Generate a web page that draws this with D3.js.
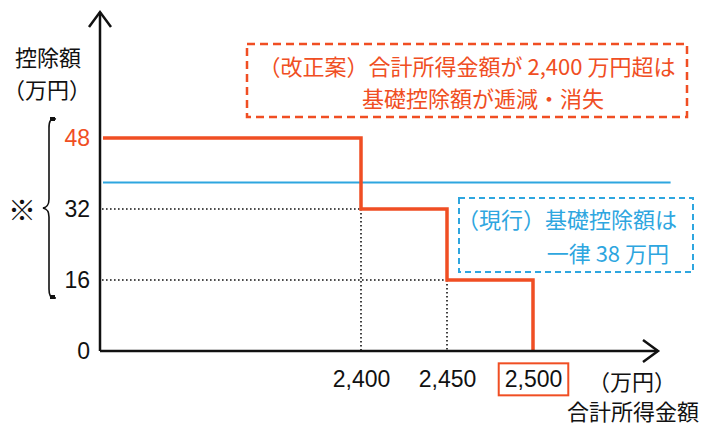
<!DOCTYPE html>
<html>
<head>
<meta charset="utf-8">
<script src="https://cdn.jsdelivr.net/npm/d3@7"></script>
<style>
  body { margin: 0; background: #fff; }
  text { font-family: "Noto Sans CJK JP", "Noto Sans", sans-serif; }
  .tick text { font-family: "Liberation Sans", Arial, sans-serif; }
</style>
</head>
<body>
<div id="chart"></div>
<script>
// data
const incomeBreaks = [2400, 2450, 2500]        // 万円
const deductionSteps = [48, 32, 16, 0]          // 万円, before/after each break
const currentDeduction = 38                      // 万円
const yTicks = [0, 16, 32, 48]
const xTicks = [2400, 2450, 2500]
const xStart = 2250
const xEndCurrent = 2580

const red = "#f04e23", blue = "#2ea6df"

const width = 710, height = 425
const svg = d3.select("#chart")
    .append("svg")
    .attr("width", width)
    .attr("height", height)

// scales
const x = d3.scaleLinear().domain([2250, 2575]).range([103, 662])
const y = d3.scaleLinear().domain([0, 48]).range([351, 138])
const axisX = 100, axisY = y(0)

const line = d3.line()
    .x(d => x(d[0]))
    .y(d => y(d[1]))

// dotted guides
const dots = svg.append("g")
    .attr("stroke", "#111")
    .attr("stroke-width", 1.6)
    .attr("stroke-dasharray", "1.6,2.4")
incomeBreaks.slice(0, 2).forEach((b, i) => {
    const v = deductionSteps[i + 1]
    dots.append("line")
        .attr("x1", axisX + 2).attr("x2", x(b))
        .attr("y1", y(v)).attr("y2", y(v))
    dots.append("line")
        .attr("x1", x(b)).attr("x2", x(b))
        .attr("y1", y(v)).attr("y2", axisY)
})

// current deduction (flat)
svg.append("path")
    .datum([[xStart, currentDeduction], [xEndCurrent, currentDeduction]])
    .attr("d", line)
    .attr("fill", "none")
    .attr("stroke", blue)
    .attr("stroke-width", 2)

// proposed deduction (step)
const stepPoints = [[xStart, deductionSteps[0]]]
incomeBreaks.forEach((b, i) => stepPoints.push([b, deductionSteps[i + 1]]))
svg.append("path")
    .datum(stepPoints)
    .attr("d", line.curve(d3.curveStepAfter))
    .attr("fill", "none")
    .attr("stroke", red)
    .attr("stroke-width", 3.5)

// axes lines with open arrows
const ax = svg.append("g")
    .attr("fill", "none")
    .attr("stroke", "#111")
    .attr("stroke-width", 2.5)
ax.append("path").attr("d", `M${axisX},${axisY} V12`)
ax.append("path").attr("d", `M${axisX - 11},27 L${axisX},12 L${axisX + 11},27`)
ax.append("path").attr("d", `M${axisX},${axisY} H658`)
ax.append("path").attr("d", `M643,${axisY - 11} L658,${axisY} L643,${axisY + 11}`)

// y tick labels
const yAxis = svg.append("g")
    .attr("transform", `translate(${axisX},0)`)
    .call(d3.axisLeft(y).tickValues(yTicks).tickSize(0).tickPadding(10))
yAxis.select(".domain").remove()
yAxis.selectAll("text")
    .attr("font-size", 23)
    .attr("fill", d => d === 48 ? red : "#111")

// x tick labels
const xAxis = svg.append("g")
    .attr("transform", `translate(0,${axisY})`)
    .call(d3.axisBottom(x).tickValues(xTicks).tickSize(0).tickPadding(20).tickFormat(d3.format(",")))
xAxis.select(".domain").remove()
xAxis.selectAll("text")
    .attr("font-size", 23)
    .attr("fill", "#111")

// box around 2,500
xAxis.selectAll(".tick").filter(d => d === 2500).each(function () {
    const bb = d3.select(this).select("text").node().getBBox()
    d3.select(this).insert("rect", "text")
        .attr("x", bb.x - 6).attr("y", bb.y - 3)
        .attr("width", bb.width + 12).attr("height", bb.height + 6)
        .attr("fill", "none")
        .attr("stroke", red)
        .attr("stroke-width", 2)
})

// axis titles
svg.append("text").attr("x", 48).attr("y", 56)
    .attr("text-anchor", "middle").attr("dominant-baseline", "central")
    .attr("font-size", 22).attr("fill", "#111").text("控除額")
svg.append("text").attr("x", 47).attr("y", 88)
    .attr("text-anchor", "middle").attr("dominant-baseline", "central")
    .attr("font-size", 22).attr("fill", "#111").text("（万円）")
svg.append("text").attr("x", 676).attr("y", 380)
    .attr("text-anchor", "end").attr("dominant-baseline", "central")
    .attr("font-size", 22).attr("fill", "#111").text("（万円）")
svg.append("text").attr("x", 699).attr("y", 410)
    .attr("text-anchor", "end").attr("dominant-baseline", "central")
    .attr("font-size", 22).attr("fill", "#111").text("合計所得金額")

// brace and note mark
svg.append("path")
    .attr("d", "M56,119 C50,118 49,122 49,128 L49,199 C49,205 47,207 43,208 C47,209 49,211 49,217 L49,289 C49,295 50,298 56,298")
    .attr("fill", "none")
    .attr("stroke", "#111")
    .attr("stroke-width", 1.6)
svg.append("rect").attr("x", 50).attr("y", 117).attr("width", 5).attr("height", 4).attr("fill", "#111")
svg.append("rect").attr("x", 50).attr("y", 295).attr("width", 5).attr("height", 4).attr("fill", "#111")
svg.append("text").attr("x", 22).attr("y", 209)
    .attr("text-anchor", "middle").attr("dominant-baseline", "central")
    .attr("font-size", 28).attr("fill", "#111").text("※")

// annotation boxes
svg.append("rect")
    .attr("x", 247).attr("y", 44).attr("width", 440).attr("height", 73)
    .attr("fill", "#fff")
    .attr("stroke", red)
    .attr("stroke-width", 2.5)
    .attr("stroke-dasharray", "8,5")
svg.append("text").attr("x", 467).attr("y", 65)
    .attr("text-anchor", "middle").attr("dominant-baseline", "central")
    .attr("font-size", 22).attr("fill", red).text("（改正案）合計所得金額が 2,400 万円超は")
svg.append("text").attr("x", 483).attr("y", 97)
    .attr("text-anchor", "middle").attr("dominant-baseline", "central")
    .attr("font-size", 22).attr("fill", red).text("基礎控除額が逓減・消失")

svg.append("rect")
    .attr("x", 459).attr("y", 198).attr("width", 234).attr("height", 74)
    .attr("fill", "#fff")
    .attr("stroke", blue)
    .attr("stroke-width", 2)
    .attr("stroke-dasharray", "6,4")
svg.append("text").attr("x", 677).attr("y", 218)
    .attr("text-anchor", "end").attr("dominant-baseline", "central")
    .attr("font-size", 22).attr("fill", blue).text("（現行）基礎控除額は")
svg.append("text").attr("x", 669).attr("y", 252)
    .attr("text-anchor", "end").attr("dominant-baseline", "central")
    .attr("font-size", 22).attr("fill", blue).text("一律 38 万円")
</script>
</body>
</html>
